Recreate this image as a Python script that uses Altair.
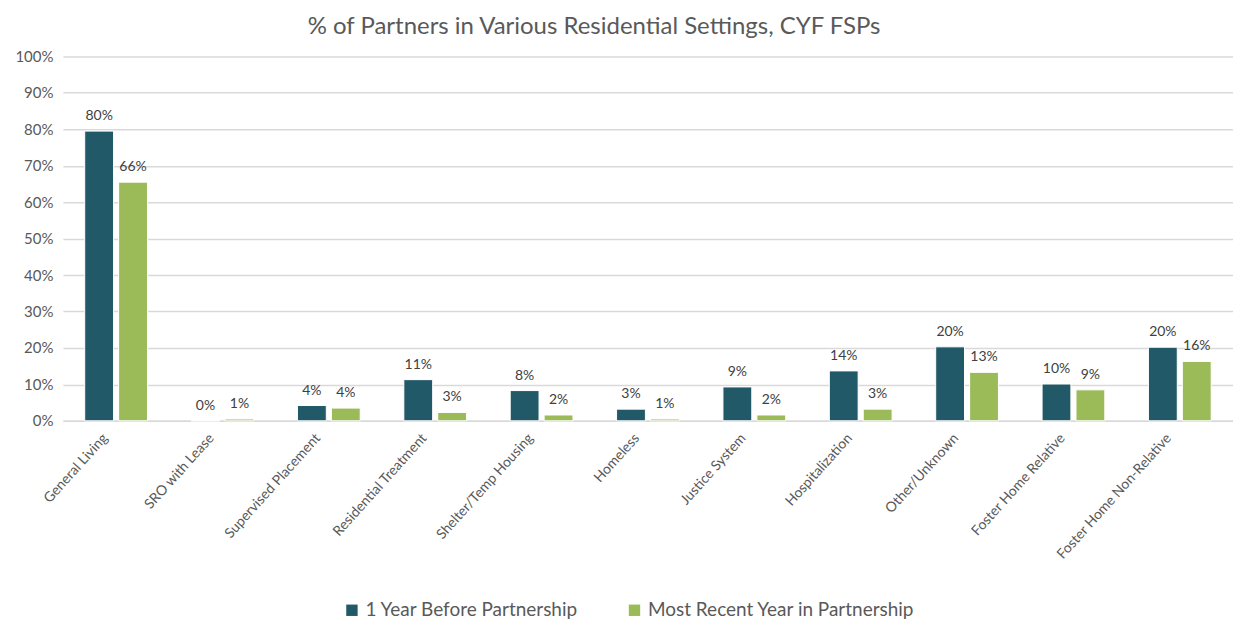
import altair as alt
import pandas as pd

categories = [
    "General Living", "SRO with Lease", "Supervised Placement", "Residential Treatment",
    "Shelter/Temp Housing", "Homeless", "Justice System", "Hospitalization",
    "Other/Unknown", "Foster Home Relative", "Foster Home Non-Relative",
]
series_names = ["1 Year Before Partnership", "Most Recent Year in Partnership"]
before = [79.5, 0.0, 4.2, 11.3, 8.3, 3.2, 9.3, 13.7, 20.3, 10.1, 20.2]
recent = [65.5, 0.5, 3.5, 2.3, 1.6, 0.5, 1.6, 3.2, 13.3, 8.5, 16.3]
before_labels = ["80%", "0%", "4%", "11%", "8%", "3%", "9%", "14%", "20%", "10%", "20%"]
recent_labels = ["66%", "1%", "4%", "3%", "2%", "1%", "2%", "3%", "13%", "9%", "16%"]
y_ticks = [0, 0.1, 0.2, 0.3, 0.4, 0.5, 0.6, 0.7, 0.8, 0.9, 1.0]
colors = ["#215968", "#9BBB59"]

rows = []
for i, c in enumerate(categories):
    rows.append({"cat": c, "series": series_names[0], "value": before[i] / 100, "label": before_labels[i]})
    rows.append({"cat": c, "series": series_names[1], "value": recent[i] / 100, "label": recent_labels[i]})
df = pd.DataFrame(rows)

FONT = "Lato"

x = alt.X(
    "cat:N", sort=categories,
    scale=alt.Scale(paddingInner=0.41, paddingOuter=0.205),
    axis=alt.Axis(title=None, labelAngle=312, labelAlign="right", labelBaseline="top",
                  labelFontSize=14, labelColor="#595959", labelPadding=10, labelOffset=-16,
                  labelLimit=0, ticks=False, domainColor="#d9d9d9", domainWidth=1.5, labelFont=FONT),
)
xo = alt.XOffset("series:N", sort=series_names, scale=alt.Scale(paddingInner=0.15, paddingOuter=0))
y = alt.Y(
    "value:Q",
    scale=alt.Scale(domain=[0, 1]),
    axis=alt.Axis(title=None, format=".0%", values=y_ticks, labelOverlap=False,
                  labelFontSize=15, labelColor="#595959", labelPadding=10,
                  ticks=False, domain=False, gridColor="#d9d9d9", gridWidth=1.5, labelFont=FONT),
)

bars = alt.Chart(df).mark_bar(stroke="white", strokeWidth=1).encode(
    x=x, xOffset=xo, y=y,
    color=alt.Color(
        "series:N", sort=series_names,
        scale=alt.Scale(domain=series_names, range=colors),
        legend=alt.Legend(title=None, orient="none", direction="horizontal",
                          legendX=280, legendY=545, symbolType="square", symbolSize=130,
                          symbolStrokeWidth=0, labelFontSize=19, labelColor="#595959",
                          labelFont=FONT, columnPadding=46, labelOffset=4, labelLimit=0),
    ),
)

labels = alt.Chart(df).mark_text(
    baseline="bottom", dy=-8, fontSize=14, color="#404040", font=FONT
).encode(x=x, xOffset=xo, y=y, text="label:N")

chart = (bars + labels).properties(
    width=1172, height=365,
    padding={"top": 7, "left": 6, "right": 0, "bottom": 0},
    title=alt.Title("% of Partners in Various Residential Settings, CYF FSPs",
                    fontSize=24, color="#595959", font=FONT, fontWeight="normal",
                    anchor="middle", offset=10, dx=-54),
).configure_view(stroke=None)

chart.save("out.html", embed_options={"renderer": "svg", "actions": False})
